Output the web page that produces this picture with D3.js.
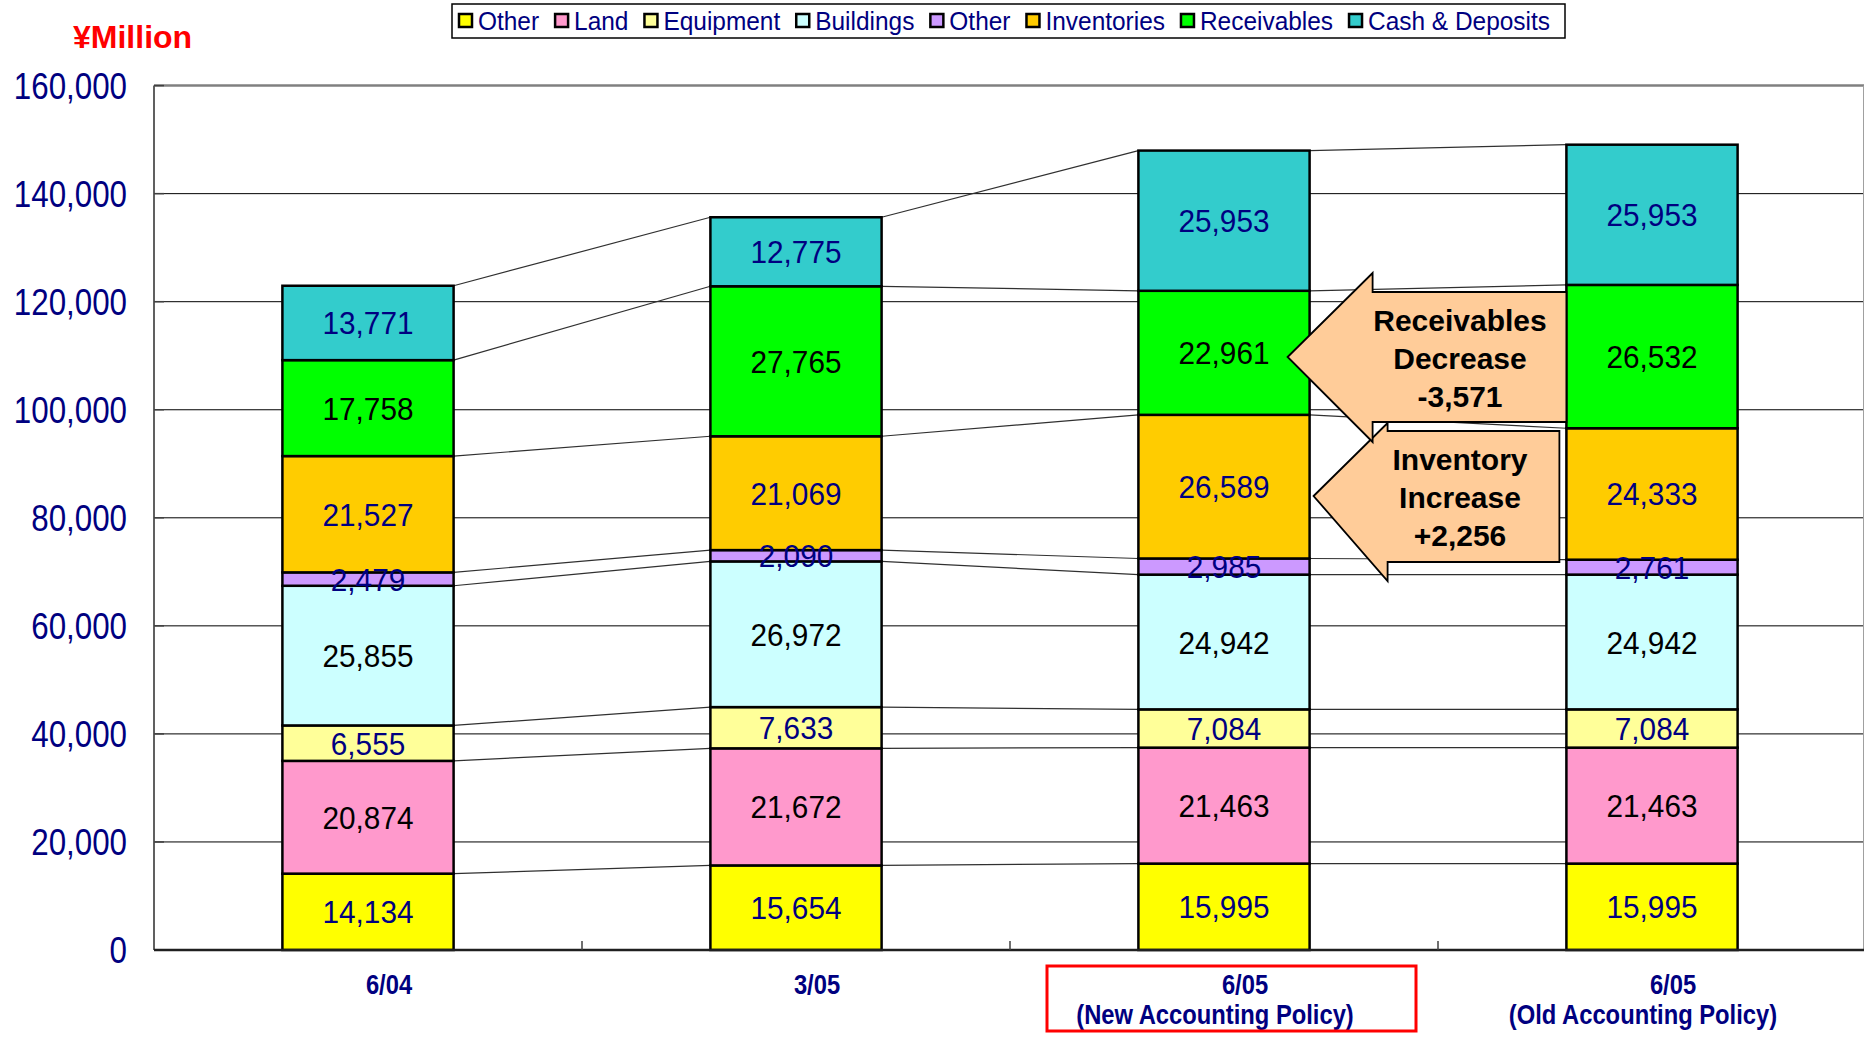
<!DOCTYPE html>
<html>
<head>
<meta charset="utf-8">
<script src="https://cdn.jsdelivr.net/npm/d3@7"></script>
<style>
  body { margin: 0; background: #ffffff; }
  #chart { width: 1864px; height: 1037px; }
  text { font-family: "Liberation Sans", Arial, sans-serif; }
</style>
</head>
<body>
<div id="chart"></div>
<script>
// categories (x axis) - second line of label shown under the first
const periods = ["6/04", "3/05", "6/05 new", "6/05 old"];
const periodLine1 = ["6/04", "3/05", "6/05", "6/05"];
const periodLine2 = ["", "", "(New Accounting Policy)", "(Old Accounting Policy)"];

// stack order, bottom to top
const seriesNames = ["Other", "Land", "Equipment", "Buildings", "Other", "Inventories", "Receivables", "Cash & Deposits"];
const seriesKeys = ["otherFixed", "land", "equipment", "buildings", "otherCurrent", "inventories", "receivables", "cash"];

// values per period, same order as seriesKeys
const values0604 = [14134, 20874, 6555, 25855, 2479, 21527, 17758, 13771];
const values0305 = [15654, 21672, 7633, 26972, 2090, 21069, 27765, 12775];
const values0605New = [15995, 21463, 7084, 24942, 2985, 26589, 22961, 25953];
const values0605Old = [15995, 21463, 7084, 24942, 2761, 24333, 26532, 25953];

const yTicks = [0, 20000, 40000, 60000, 80000, 100000, 120000, 140000, 160000];

const colors = ["#ffff00", "#ff99cc", "#ffff99", "#ccffff", "#cc99ff", "#ffcc00", "#00ff00", "#33cccc"];
const labelColors = ["#000080", "#000000", "#000080", "#000000", "#000080", "#000080", "#000000", "#000080"];

const width = 1864;
const height = 1037;
const navy = "#000080";

// table for d3.stack
const allValues = [values0604, values0305, values0605New, values0605Old];
const tableData = periods.map(function (p, i) {
  const row = { period: p };
  seriesKeys.forEach(function (k, j) { row[k] = allValues[i][j]; });
  return row;
});

const svg = d3.select("#chart")
  .append("svg")
  .attr("width", width)
  .attr("height", height);

const x = d3.scaleBand()
  .domain(periods)
  .range([154, 1866])
  .paddingInner(0.6)
  .paddingOuter(0.3);

const y = d3.scaleLinear()
  .domain([0, 160000])
  .range([950, 85.6]);

const plotLeft = 154;
const plotRight = 1864;

// gridlines
svg.append("g")
  .selectAll("line")
  .data(yTicks.slice(1))
  .enter()
  .append("line")
  .attr("x1", plotLeft)
  .attr("x2", plotRight)
  .attr("y1", function (d) { return y(d); })
  .attr("y2", function (d) { return y(d); })
  .attr("stroke", function (d) { return d === 160000 ? "#808080" : "#000000"; })
  .attr("stroke-width", function (d) { return d === 160000 ? 2.5 : 1; });

// right border of plot
svg.append("line")
  .attr("x1", plotRight - 0.5).attr("x2", plotRight - 0.5)
  .attr("y1", y(160000)).attr("y2", y(0))
  .attr("stroke", "#a0a0a0").attr("stroke-width", 1);

// y axis
svg.append("line")
  .attr("x1", plotLeft).attr("x2", plotLeft)
  .attr("y1", y(160000)).attr("y2", y(0))
  .attr("stroke", "#606060").attr("stroke-width", 2);

svg.append("g")
  .selectAll("line")
  .data(yTicks)
  .enter()
  .append("line")
  .attr("x1", plotLeft).attr("x2", plotLeft + 10)
  .attr("y1", function (d) { return y(d); })
  .attr("y2", function (d) { return y(d); })
  .attr("stroke", "#404040").attr("stroke-width", 1.5);

// tick labels are a bit condensed in the original, so squeeze them horizontally
svg.append("g")
  .selectAll("text")
  .data(yTicks)
  .enter()
  .append("text")
  .attr("transform", function (d) { return "translate(127," + y(d) + ") scale(0.87,1)"; })
  .attr("dy", "0.36em")
  .attr("text-anchor", "end")
  .attr("font-size", "36px")
  .attr("fill", navy)
  .text(d3.format(","));

const stacked = d3.stack().keys(seriesKeys)(tableData);

// connector lines between consecutive bars at each stack boundary
const connectors = [];
stacked.forEach(function (layer) {
  for (let i = 0; i < periods.length - 1; i++) {
    connectors.push({
      x1: x(periods[i]) + x.bandwidth(),
      y1: y(layer[i][1]),
      x2: x(periods[i + 1]),
      y2: y(layer[i + 1][1])
    });
  }
});

svg.append("g")
  .selectAll("line")
  .data(connectors)
  .enter()
  .append("line")
  .attr("x1", function (d) { return d.x1; })
  .attr("y1", function (d) { return d.y1; })
  .attr("x2", function (d) { return d.x2; })
  .attr("y2", function (d) { return d.y2; })
  .attr("stroke", "#303030")
  .attr("stroke-width", 1.2);

// bars
svg.append("g")
  .selectAll("g")
  .data(stacked)
  .enter()
  .append("g")
  .attr("fill", function (d, i) { return colors[i]; })
  .selectAll("rect")
  .data(function (d) { return d; })
  .enter()
  .append("rect")
  .attr("x", function (d) { return x(d.data.period); })
  .attr("y", function (d) { return y(d[1]); })
  .attr("width", x.bandwidth())
  .attr("height", function (d) { return y(d[0]) - y(d[1]); })
  .attr("stroke", "#000000")
  .attr("stroke-width", 2.5);

// baseline (x axis)
svg.append("line")
  .attr("x1", plotLeft).attr("x2", plotRight)
  .attr("y1", y(0)).attr("y2", y(0))
  .attr("stroke", "#202020").attr("stroke-width", 2.5);

// category boundary ticks, pointing up
svg.append("g")
  .selectAll("line")
  .data(d3.range(1, periods.length))
  .enter()
  .append("line")
  .attr("x1", function (i) { return x.range()[0] + i * x.step(); })
  .attr("x2", function (i) { return x.range()[0] + i * x.step(); })
  .attr("y1", y(0))
  .attr("y2", y(0) - 9)
  .attr("stroke", "#404040").attr("stroke-width", 1.5);

// segment value labels
stacked.forEach(function (layer, li) {
  svg.append("g")
    .selectAll("text")
    .data(layer)
    .enter()
    .append("text")
    .attr("transform", function (d) {
      return "translate(" + (x(d.data.period) + x.bandwidth() / 2) + "," + y((d[0] + d[1]) / 2) + ") scale(0.93,1)";
    })
    .attr("dy", "0.36em")
    .attr("text-anchor", "middle")
    .attr("font-size", "32px")
    .attr("fill", labelColors[li])
    .text(function (d) { return d3.format(",")(d[1] - d[0]); });
});

// x labels
const xLabels = svg.append("g")
  .selectAll("g")
  .data(periods)
  .enter()
  .append("g")
  .attr("transform", function (d) { return "translate(" + (x(d) + x.bandwidth() / 2) + ",0)"; });

xLabels.append("text")
  .attr("transform", "translate(21,994) scale(0.88,1)")
  .attr("text-anchor", "middle")
  .attr("font-size", "27px")
  .attr("font-weight", "bold")
  .attr("fill", navy)
  .text(function (d, i) { return periodLine1[i]; });

xLabels.append("text")
  .attr("transform", "translate(-9,1024) scale(0.88,1)")
  .attr("text-anchor", "middle")
  .attr("font-size", "27px")
  .attr("font-weight", "bold")
  .attr("fill", navy)
  .text(function (d, i) { return periodLine2[i]; });

// red box around the new accounting policy label
const newCenter = x(periods[2]) + x.bandwidth() / 2;
svg.append("rect")
  .attr("x", newCenter - 177)
  .attr("y", 966)
  .attr("width", 369)
  .attr("height", 65)
  .attr("fill", "none")
  .attr("stroke", "#ff0000")
  .attr("stroke-width", 3);

// block arrows (annotation)
const newRight = x(periods[2]) + x.bandwidth();
const oldLeft = x(periods[3]);

function blockArrow(tipX, tipY, headX, headTop, headBottom, bodyTop, bodyBottom, rightX) {
  return [
    [tipX, tipY], [headX, headTop], [headX, bodyTop], [rightX, bodyTop],
    [rightX, bodyBottom], [headX, bodyBottom], [headX, headBottom]
  ];
}

const arrows = [
  { pts: blockArrow(newRight + 4, 496, newRight + 78, 423, 581, 431, 562, oldLeft - 7), lines: ["Inventory", "Increase", "+2,256"], cy: 497 },
  { pts: blockArrow(newRight - 22, 357, newRight + 63, 273, 442, 292, 422, oldLeft), lines: ["Receivables", "Decrease", "-3,571"], cy: 358 }
];

arrows.forEach(function (a) {
  svg.append("polygon")
    .attr("points", a.pts.map(function (p) { return p.join(","); }).join(" "))
    .attr("fill", "#ffcc99")
    .attr("stroke", "#000000")
    .attr("stroke-width", 1.8)
    .attr("stroke-linejoin", "miter");

  svg.append("g")
    .selectAll("text")
    .data(a.lines)
    .enter()
    .append("text")
    .attr("x", 1460)
    .attr("y", function (d, i) { return a.cy + (i - 1) * 38; })
    .attr("dy", "0.36em")
    .attr("text-anchor", "middle")
    .attr("font-size", "30px")
    .attr("font-weight", "bold")
    .attr("fill", "#000000")
    .text(function (d) { return d; });
});

// unit label
svg.append("text")
  .attr("x", 73)
  .attr("y", 48)
  .attr("font-size", "32px")
  .attr("font-weight", "bold")
  .attr("fill", "#ff0000")
  .text("¥Million");

// legend
const legend = svg.append("g");
legend.append("rect")
  .attr("x", 452).attr("y", 4)
  .attr("width", 1113).attr("height", 34)
  .attr("fill", "#ffffff")
  .attr("stroke", "#000000")
  .attr("stroke-width", 1.5);

const legendSquash = 0.94;
let lx = 459;
seriesNames.forEach(function (name, i) {
  legend.append("rect")
    .attr("x", lx).attr("y", 14)
    .attr("width", 13).attr("height", 13)
    .attr("fill", colors[i])
    .attr("stroke", "#000000")
    .attr("stroke-width", 2.5);
  const t = legend.append("text")
    .attr("transform", "translate(" + (lx + 19) + ",30) scale(" + legendSquash + ",1)")
    .attr("font-size", "26px")
    .attr("fill", navy)
    .text(name);
  lx += 19 + t.node().getComputedTextLength() * legendSquash + 16;
});
</script>
</body>
</html>
